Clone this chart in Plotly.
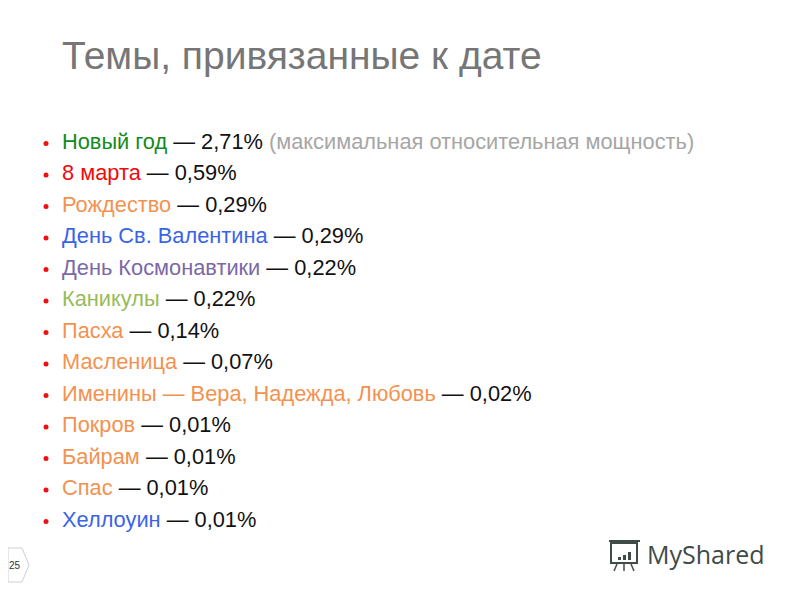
import plotly.graph_objects as go

# Темы и их относительная мощность
topics = ["Новый год", "8 марта", "Рождество", "День Св. Валентина", "День Космонавтики",
          "Каникулы", "Пасха", "Масленица", "Именины — Вера, Надежда, Любовь", "Покров",
          "Байрам", "Спас", "Хеллоуин"]
shares = ["2,71", "0,59", "0,29", "0,29", "0,22", "0,22", "0,14", "0,07", "0,02",
          "0,01", "0,01", "0,01", "0,01"]
topic_colors = ["#138a1c", "#f00a0a", "#f39250", "#3a64e6", "#7c68a6", "#98bb5a",
                "#f39250", "#f39250", "#f39250", "#f39250", "#f39250", "#f39250", "#3a64e6"]
notes = {0: "(максимальная относительная мощность)"}

OFF = 8  # отступ body на странице


def px(x):
    return (x - OFF) / 800


def py(y):
    return 1 - (y - OFF) / 600


rows = list(range(len(topics)))
labels = []
for i, (t, s, c) in enumerate(zip(topics, shares, topic_colors)):
    lbl = f"<span style='color:{c}'>{t}</span> — {s}%"
    if i in notes:
        lbl += f" <span style='color:#a6a6a6'>{notes[i]}</span>"
    labels.append(lbl)

fig = go.Figure()
# маркеры списка
fig.add_trace(go.Scatter(x=[46] * len(rows), y=rows, mode="markers",
                         marker=dict(color="#ee1111", size=5, symbol="circle"),
                         hoverinfo="skip"))
# строки списка
fig.add_trace(go.Scatter(x=[62] * len(rows), y=rows, mode="text", text=labels,
                         textposition="middle right",
                         textfont=dict(family="Liberation Sans, Arial", size=21.8, color="#111111"),
                         hoverinfo="skip"))

fig.update_layout(
    width=800, height=600,
    margin=dict(l=0, r=0, t=0, b=0),
    paper_bgcolor="white", plot_bgcolor="white",
    showlegend=False,
    xaxis=dict(range=[OFF, 800 + OFF], visible=False, fixedrange=True),
    yaxis=dict(range=[14.746, -4.302], visible=False, fixedrange=True),
    title=dict(text="Темы, привязанные к дате", x=px(62), xanchor="left",
               y=py(55), yanchor="middle",
               font=dict(family="Liberation Sans, Arial", size=39, color="#767676")),
)

# номер слайда
fig.add_shape(type="path", xref="paper", yref="paper",
              path=f"M 0 {py(548)} L {px(22)} {py(548)} L {px(29)} {py(565)} "
                   f"L {px(22)} {py(582)} L 0 {py(582)} Z",
              line=dict(color="#cfcfcf", width=1), fillcolor="white")
fig.add_annotation(text="25", x=px(15), y=py(565), xref="paper", yref="paper",
                   xanchor="center", yanchor="middle", showarrow=False,
                   font=dict(family="Liberation Sans, Arial", size=10, color="#333333"))

# логотип
logo_col = "#3f4b47"
fig.add_annotation(text="MyShared", x=px(645), y=py(554), xref="paper", yref="paper",
                   xanchor="left", yanchor="middle", showarrow=False,
                   font=dict(family="Open Sans", size=25, color=logo_col))
fig.add_shape(type="rect", xref="paper", yref="paper",
              x0=px(611), x1=px(637), y0=py(563), y1=py(543),
              line=dict(color=logo_col, width=2))
fig.add_shape(type="line", xref="paper", yref="paper",
              x0=px(609), x1=px(640), y0=py(541), y1=py(541),
              line=dict(color=logo_col, width=2))
for bx, bh in [(618, 3), (623, 5), (628, 8)]:
    fig.add_shape(type="rect", xref="paper", yref="paper",
                  x0=px(bx), x1=px(bx + 3), y0=py(560), y1=py(560 - bh),
                  line=dict(width=0), fillcolor=logo_col)
for x0, x1 in [(617, 614), (624, 624), (631, 634)]:
    fig.add_shape(type="line", xref="paper", yref="paper",
                  x0=px(x0), x1=px(x1), y0=py(564), y1=py(571),
                  line=dict(color=logo_col, width=1.5))

fig.write_html("out.html")
